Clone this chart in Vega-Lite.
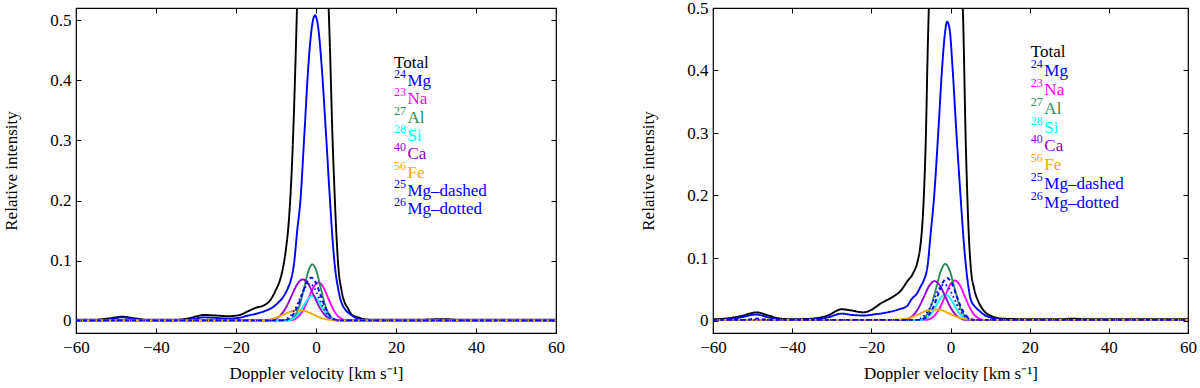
{
"$schema": "https://vega.github.io/schema/vega-lite/v6.json",
"background": "white",
"padding": {"left": 2, "top": -2, "right": 5, "bottom": 0},
"spacing": 73,
"config": {
 "font": "Liberation Serif, Times New Roman, serif",
 "text": {"font": "Liberation Serif, Times New Roman, serif"},
 "view": {"stroke": "black", "strokeWidth": 1.2},
 "axis": {"domain": false, "grid": false, "tickColor": "black", "tickSize": -5, "tickWidth": 1, "labelColor": "black", "labelFont": "Liberation Serif, Times New Roman, serif", "labelFontSize": 17, "titleFont": "Liberation Serif, Times New Roman, serif", "titleFontSize": 17, "titleFontWeight": "normal", "titleColor": "black", "labelFlush": false, "labelOverlap": false}
},
"resolve": {"scale": {"x": "independent", "y": "independent", "color": "independent", "strokeDash": "independent"}},
"datasets": {
"legend": [
 {"rank": 1, "sup": "", "name": "Total", "series": "Total"},
 {"rank": 2, "sup": "24", "name": "Mg", "series": "24Mg"},
 {"rank": 3, "sup": "23", "name": "Na", "series": "23Na"},
 {"rank": 4, "sup": "27", "name": "Al", "series": "27Al"},
 {"rank": 5, "sup": "28", "name": "Si", "series": "28Si"},
 {"rank": 6, "sup": "40", "name": "Ca", "series": "40Ca"},
 {"rank": 7, "sup": "56", "name": "Fe", "series": "56Fe"},
 {"rank": 8, "sup": "25", "name": "Mg–dashed", "series": "25Mg"},
 {"rank": 9, "sup": "26", "name": "Mg–dotted", "series": "26Mg"}
],
"left": [
 {"s":"Total","v":-60,"I":0.002},{"s":"Total","v":-56,"I":0.002},{"s":"Total","v":-52,"I":0.004},{"s":"Total","v":-48.5,"I":0.007},{"s":"Total","v":-45,"I":0.004},{"s":"Total","v":-42,"I":0.002},{"s":"Total","v":-36,"I":0.002},{"s":"Total","v":-32,"I":0.004},{"s":"Total","v":-28,"I":0.010},{"s":"Total","v":-25,"I":0.009},{"s":"Total","v":-22,"I":0.008},{"s":"Total","v":-19.7,"I":0.009},{"s":"Total","v":-16.4,"I":0.018},{"s":"Total","v":-15,"I":0.022},{"s":"Total","v":-13,"I":0.026},{"s":"Total","v":-11.5,"I":0.034},{"s":"Total","v":-10,"I":0.052},{"s":"Total","v":-9,"I":0.068},{"s":"Total","v":-8.2,"I":0.09},{"s":"Total","v":-7.5,"I":0.12},{"s":"Total","v":-6.75,"I":0.17},{"s":"Total","v":-6,"I":0.26},{"s":"Total","v":-5.5,"I":0.35},{"s":"Total","v":-5,"I":0.46},{"s":"Total","v":-4.5,"I":0.58},{"s":"Total","v":-4,"I":0.68},{"s":"Total","v":-3,"I":0.8},{"s":"Total","v":-2,"I":0.87},{"s":"Total","v":-1,"I":0.9},{"s":"Total","v":0,"I":0.88},{"s":"Total","v":1,"I":0.8},{"s":"Total","v":2,"I":0.68},{"s":"Total","v":3,"I":0.55},{"s":"Total","v":3.5,"I":0.45},{"s":"Total","v":4.1,"I":0.31},{"s":"Total","v":4.6,"I":0.22},{"s":"Total","v":5.1,"I":0.144},{"s":"Total","v":5.6,"I":0.089},{"s":"Total","v":6.4,"I":0.05},{"s":"Total","v":7.2,"I":0.03},{"s":"Total","v":7.9,"I":0.022},{"s":"Total","v":9,"I":0.01},{"s":"Total","v":10.6,"I":0.006},{"s":"Total","v":12,"I":0.003},{"s":"Total","v":15,"I":0.002},{"s":"Total","v":25,"I":0.002},{"s":"Total","v":32,"I":0.003},{"s":"Total","v":36,"I":0.002},{"s":"Total","v":60,"I":0.002},
 {"s":"24Mg","v":-60,"I":0.001},{"s":"24Mg","v":-55,"I":0.001},{"s":"24Mg","v":-52,"I":0.002},{"s":"24Mg","v":-48.5,"I":0.006},{"s":"24Mg","v":-45,"I":0.003},{"s":"24Mg","v":-41,"I":0.001},{"s":"24Mg","v":-34,"I":0.001},{"s":"24Mg","v":-31,"I":0.003},{"s":"24Mg","v":-28,"I":0.006},{"s":"24Mg","v":-25,"I":0.005},{"s":"24Mg","v":-22,"I":0.004},{"s":"24Mg","v":-19.5,"I":0.005},{"s":"24Mg","v":-17,"I":0.009},{"s":"24Mg","v":-15,"I":0.012},{"s":"24Mg","v":-13,"I":0.016},{"s":"24Mg","v":-11,"I":0.022},{"s":"24Mg","v":-9.5,"I":0.03},{"s":"24Mg","v":-8,"I":0.042},{"s":"24Mg","v":-7,"I":0.055},{"s":"24Mg","v":-6.2,"I":0.07},{"s":"24Mg","v":-5.5,"I":0.095},{"s":"24Mg","v":-4.7,"I":0.15},{"s":"24Mg","v":-3.9,"I":0.2},{"s":"24Mg","v":-2.9,"I":0.311},{"s":"24Mg","v":-1.9,"I":0.425},{"s":"24Mg","v":-1,"I":0.49},{"s":"24Mg","v":-0.25,"I":0.508},{"s":"24Mg","v":0.5,"I":0.49},{"s":"24Mg","v":1.4,"I":0.425},{"s":"24Mg","v":2.5,"I":0.311},{"s":"24Mg","v":3.5,"I":0.2},{"s":"24Mg","v":4.2,"I":0.13},{"s":"24Mg","v":4.75,"I":0.089},{"s":"24Mg","v":5.5,"I":0.055},{"s":"24Mg","v":6.25,"I":0.033},{"s":"24Mg","v":7.2,"I":0.02},{"s":"24Mg","v":8.2,"I":0.013},{"s":"24Mg","v":9.2,"I":0.008},{"s":"24Mg","v":10.5,"I":0.004},{"s":"24Mg","v":12,"I":0.002},{"s":"24Mg","v":15,"I":0.001},{"s":"24Mg","v":60,"I":0.001},
 {"s":"23Na","v":-60,"I":0.001},{"s":"23Na","v":-9,"I":0.001},{"s":"23Na","v":-6.6,"I":0.001},{"s":"23Na","v":-5.4,"I":0.0028},{"s":"23Na","v":-4.2,"I":0.0087},{"s":"23Na","v":-3.0,"I":0.0208},{"s":"23Na","v":-1.8,"I":0.0388},{"s":"23Na","v":-0.6,"I":0.0565},{"s":"23Na","v":0.6,"I":0.064},{"s":"23Na","v":1.8,"I":0.0565},{"s":"23Na","v":3.0,"I":0.0388},{"s":"23Na","v":4.2,"I":0.0208},{"s":"23Na","v":5.4,"I":0.0087},{"s":"23Na","v":6.6,"I":0.0028},{"s":"23Na","v":7.8,"I":0.001},{"s":"23Na","v":11,"I":0.001},{"s":"23Na","v":60,"I":0.001},
 {"s":"27Al","v":-60,"I":0.001},{"s":"27Al","v":-10,"I":0.001},{"s":"27Al","v":-7.9,"I":0.001},{"s":"27Al","v":-6.9,"I":0.0015},{"s":"27Al","v":-5.9,"I":0.0041},{"s":"27Al","v":-4.9,"I":0.0127},{"s":"27Al","v":-3.9,"I":0.0305},{"s":"27Al","v":-2.9,"I":0.057},{"s":"27Al","v":-1.9,"I":0.083},{"s":"27Al","v":-0.9,"I":0.094},{"s":"27Al","v":0.1,"I":0.083},{"s":"27Al","v":1.1,"I":0.057},{"s":"27Al","v":2.1,"I":0.0305},{"s":"27Al","v":3.1,"I":0.0127},{"s":"27Al","v":4.1,"I":0.0041},{"s":"27Al","v":5.1,"I":0.0015},{"s":"27Al","v":6.1,"I":0.001},{"s":"27Al","v":10,"I":0.001},{"s":"27Al","v":60,"I":0.001},
 {"s":"28Si","v":-60,"I":0.001},{"s":"28Si","v":-10,"I":0.001},{"s":"28Si","v":-7.5,"I":0.001},{"s":"28Si","v":-6.4,"I":0.0018},{"s":"28Si","v":-5.3,"I":0.0057},{"s":"28Si","v":-4.2,"I":0.0136},{"s":"28Si","v":-3.1,"I":0.0255},{"s":"28Si","v":-2.0,"I":0.0371},{"s":"28Si","v":-0.9,"I":0.042},{"s":"28Si","v":0.2,"I":0.0371},{"s":"28Si","v":1.3,"I":0.0255},{"s":"28Si","v":2.4,"I":0.0136},{"s":"28Si","v":3.5,"I":0.0057},{"s":"28Si","v":4.6,"I":0.0018},{"s":"28Si","v":5.7,"I":0.001},{"s":"28Si","v":9,"I":0.001},{"s":"28Si","v":60,"I":0.001},
 {"s":"40Ca","v":-60,"I":0.001},{"s":"40Ca","v":-14,"I":0.001},{"s":"40Ca","v":-11.7,"I":0.001},{"s":"40Ca","v":-10.3,"I":0.003},{"s":"40Ca","v":-8.9,"I":0.0093},{"s":"40Ca","v":-7.5,"I":0.0224},{"s":"40Ca","v":-6.1,"I":0.0418},{"s":"40Ca","v":-4.7,"I":0.0609},{"s":"40Ca","v":-3.3,"I":0.069},{"s":"40Ca","v":-1.9,"I":0.0609},{"s":"40Ca","v":-0.5,"I":0.0418},{"s":"40Ca","v":0.9,"I":0.0224},{"s":"40Ca","v":2.3,"I":0.0093},{"s":"40Ca","v":3.7,"I":0.003},{"s":"40Ca","v":5.1,"I":0.001},{"s":"40Ca","v":8,"I":0.001},{"s":"40Ca","v":60,"I":0.001},
 {"s":"56Fe","v":-60,"I":0.001},{"s":"56Fe","v":-18,"I":0.001},{"s":"56Fe","v":-14.9,"I":0.001},{"s":"56Fe","v":-13.15,"I":0.0012},{"s":"56Fe","v":-11.4,"I":0.0028},{"s":"56Fe","v":-9.65,"I":0.0063},{"s":"56Fe","v":-7.9,"I":0.0113},{"s":"56Fe","v":-6.15,"I":0.0161},{"s":"56Fe","v":-4.4,"I":0.018},{"s":"56Fe","v":-2.65,"I":0.0161},{"s":"56Fe","v":-0.9,"I":0.0113},{"s":"56Fe","v":0.85,"I":0.0063},{"s":"56Fe","v":2.6,"I":0.0028},{"s":"56Fe","v":4.35,"I":0.0012},{"s":"56Fe","v":6.1,"I":0.001},{"s":"56Fe","v":10,"I":0.001},{"s":"56Fe","v":60,"I":0.001},
 {"s":"25Mg","v":-60,"I":0.001},{"s":"25Mg","v":-10,"I":0.001},{"s":"25Mg","v":-8.1,"I":0.001},{"s":"25Mg","v":-6.95,"I":0.0032},{"s":"25Mg","v":-5.8,"I":0.0097},{"s":"25Mg","v":-4.65,"I":0.0234},{"s":"25Mg","v":-3.5,"I":0.0437},{"s":"25Mg","v":-2.35,"I":0.0635},{"s":"25Mg","v":-1.2,"I":0.072},{"s":"25Mg","v":-0.05,"I":0.0635},{"s":"25Mg","v":1.1,"I":0.0437},{"s":"25Mg","v":2.25,"I":0.0234},{"s":"25Mg","v":3.4,"I":0.0097},{"s":"25Mg","v":4.55,"I":0.0032},{"s":"25Mg","v":5.7,"I":0.001},{"s":"25Mg","v":9,"I":0.001},{"s":"25Mg","v":60,"I":0.001},
 {"s":"26Mg","v":-60,"I":0.001},{"s":"26Mg","v":-11,"I":0.001},{"s":"26Mg","v":-8.8,"I":0.001},{"s":"26Mg","v":-7.6,"I":0.0027},{"s":"26Mg","v":-6.4,"I":0.0084},{"s":"26Mg","v":-5.2,"I":0.0201},{"s":"26Mg","v":-4.0,"I":0.0376},{"s":"26Mg","v":-2.8,"I":0.0547},{"s":"26Mg","v":-1.6,"I":0.062},{"s":"26Mg","v":-0.4,"I":0.0547},{"s":"26Mg","v":0.8,"I":0.0376},{"s":"26Mg","v":2.0,"I":0.0201},{"s":"26Mg","v":3.2,"I":0.0084},{"s":"26Mg","v":4.4,"I":0.0027},{"s":"26Mg","v":5.6,"I":0.001},{"s":"26Mg","v":9,"I":0.001},{"s":"26Mg","v":60,"I":0.001}
],
"right": [
 {"s":"Total","v":-60,"I":0.002},{"s":"Total","v":-57,"I":0.003},{"s":"Total","v":-53,"I":0.007},{"s":"Total","v":-49,"I":0.013},{"s":"Total","v":-46,"I":0.008},{"s":"Total","v":-43,"I":0.003},{"s":"Total","v":-40,"I":0.002},{"s":"Total","v":-35,"I":0.003},{"s":"Total","v":-31,"I":0.008},{"s":"Total","v":-27.5,"I":0.018},{"s":"Total","v":-25,"I":0.016},{"s":"Total","v":-22,"I":0.013},{"s":"Total","v":-20,"I":0.017},{"s":"Total","v":-17.7,"I":0.027},{"s":"Total","v":-14.3,"I":0.039},{"s":"Total","v":-12.5,"I":0.048},{"s":"Total","v":-11,"I":0.062},{"s":"Total","v":-9.5,"I":0.075},{"s":"Total","v":-8.3,"I":0.095},{"s":"Total","v":-7.6,"I":0.12},{"s":"Total","v":-7.05,"I":0.16},{"s":"Total","v":-6.6,"I":0.22},{"s":"Total","v":-6.2,"I":0.3},{"s":"Total","v":-5.8,"I":0.42},{"s":"Total","v":-5.4,"I":0.52},{"s":"Total","v":-5,"I":0.62},{"s":"Total","v":-4,"I":0.78},{"s":"Total","v":-3,"I":0.87},{"s":"Total","v":-2,"I":0.91},{"s":"Total","v":-1,"I":0.92},{"s":"Total","v":0,"I":0.88},{"s":"Total","v":1,"I":0.78},{"s":"Total","v":2,"I":0.65},{"s":"Total","v":2.6,"I":0.57},{"s":"Total","v":3.2,"I":0.48},{"s":"Total","v":3.8,"I":0.3},{"s":"Total","v":4.6,"I":0.14},{"s":"Total","v":5.1,"I":0.087},{"s":"Total","v":6,"I":0.05},{"s":"Total","v":7,"I":0.031},{"s":"Total","v":8.5,"I":0.015},{"s":"Total","v":10.4,"I":0.007},{"s":"Total","v":13,"I":0.003},{"s":"Total","v":20,"I":0.002},{"s":"Total","v":28,"I":0.002},{"s":"Total","v":31,"I":0.003},{"s":"Total","v":34,"I":0.002},{"s":"Total","v":60,"I":0.002},
 {"s":"24Mg","v":-60,"I":0.001},{"s":"24Mg","v":-56,"I":0.002},{"s":"24Mg","v":-53,"I":0.005},{"s":"24Mg","v":-49,"I":0.0096},{"s":"24Mg","v":-46,"I":0.005},{"s":"24Mg","v":-42,"I":0.001},{"s":"24Mg","v":-34,"I":0.002},{"s":"24Mg","v":-31,"I":0.005},{"s":"24Mg","v":-27.5,"I":0.011},{"s":"24Mg","v":-25,"I":0.009},{"s":"24Mg","v":-22,"I":0.008},{"s":"24Mg","v":-19,"I":0.01},{"s":"24Mg","v":-16,"I":0.013},{"s":"24Mg","v":-13,"I":0.018},{"s":"24Mg","v":-11,"I":0.023},{"s":"24Mg","v":-9.85,"I":0.034},{"s":"24Mg","v":-8.4,"I":0.044},{"s":"24Mg","v":-7.5,"I":0.055},{"s":"24Mg","v":-6.7,"I":0.065},{"s":"24Mg","v":-5.8,"I":0.087},{"s":"24Mg","v":-5,"I":0.14},{"s":"24Mg","v":-4.2,"I":0.193},{"s":"24Mg","v":-3.1,"I":0.3},{"s":"24Mg","v":-2.1,"I":0.406},{"s":"24Mg","v":-1.4,"I":0.46},{"s":"24Mg","v":-0.85,"I":0.478},{"s":"24Mg","v":-0.2,"I":0.465},{"s":"24Mg","v":0.5,"I":0.406},{"s":"24Mg","v":1.5,"I":0.3},{"s":"24Mg","v":2.6,"I":0.193},{"s":"24Mg","v":3.3,"I":0.13},{"s":"24Mg","v":3.9,"I":0.087},{"s":"24Mg","v":4.5,"I":0.055},{"s":"24Mg","v":5.1,"I":0.034},{"s":"24Mg","v":6.2,"I":0.022},{"s":"24Mg","v":7.4,"I":0.015},{"s":"24Mg","v":8.5,"I":0.009},{"s":"24Mg","v":10,"I":0.005},{"s":"24Mg","v":12,"I":0.002},{"s":"24Mg","v":15,"I":0.001},{"s":"24Mg","v":60,"I":0.001},
 {"s":"23Na","v":-60,"I":0.001},{"s":"23Na","v":-9,"I":0.001},{"s":"23Na","v":-6.4,"I":0.001},{"s":"23Na","v":-5.15,"I":0.0028},{"s":"23Na","v":-3.9,"I":0.0087},{"s":"23Na","v":-2.65,"I":0.0208},{"s":"23Na","v":-1.4,"I":0.0388},{"s":"23Na","v":-0.15,"I":0.0565},{"s":"23Na","v":1.1,"I":0.064},{"s":"23Na","v":2.35,"I":0.0565},{"s":"23Na","v":3.6,"I":0.0388},{"s":"23Na","v":4.85,"I":0.0208},{"s":"23Na","v":6.1,"I":0.0087},{"s":"23Na","v":7.35,"I":0.0028},{"s":"23Na","v":8.6,"I":0.001},{"s":"23Na","v":12,"I":0.001},{"s":"23Na","v":60,"I":0.001},
 {"s":"27Al","v":-60,"I":0.001},{"s":"27Al","v":-10,"I":0.001},{"s":"27Al","v":-7.9,"I":0.001},{"s":"27Al","v":-6.8,"I":0.004},{"s":"27Al","v":-5.7,"I":0.0122},{"s":"27Al","v":-4.6,"I":0.0294},{"s":"27Al","v":-3.5,"I":0.0549},{"s":"27Al","v":-2.4,"I":0.0799},{"s":"27Al","v":-1.3,"I":0.0905},{"s":"27Al","v":-0.2,"I":0.0799},{"s":"27Al","v":0.9,"I":0.0549},{"s":"27Al","v":2.0,"I":0.0294},{"s":"27Al","v":3.1,"I":0.0122},{"s":"27Al","v":4.2,"I":0.004},{"s":"27Al","v":5.3,"I":0.001},{"s":"27Al","v":9,"I":0.001},{"s":"27Al","v":60,"I":0.001},
 {"s":"28Si","v":-60,"I":0.001},{"s":"28Si","v":-10,"I":0.001},{"s":"28Si","v":-7.9,"I":0.001},{"s":"28Si","v":-6.8,"I":0.0018},{"s":"28Si","v":-5.7,"I":0.0056},{"s":"28Si","v":-4.6,"I":0.0135},{"s":"28Si","v":-3.5,"I":0.0252},{"s":"28Si","v":-2.4,"I":0.0366},{"s":"28Si","v":-1.3,"I":0.0415},{"s":"28Si","v":-0.2,"I":0.0366},{"s":"28Si","v":0.9,"I":0.0252},{"s":"28Si","v":2.0,"I":0.0135},{"s":"28Si","v":3.1,"I":0.0056},{"s":"28Si","v":4.2,"I":0.0018},{"s":"28Si","v":5.3,"I":0.001},{"s":"28Si","v":9,"I":0.001},{"s":"28Si","v":60,"I":0.001},
 {"s":"40Ca","v":-60,"I":0.001},{"s":"40Ca","v":-15,"I":0.001},{"s":"40Ca","v":-12.1,"I":0.001},{"s":"40Ca","v":-10.75,"I":0.0028},{"s":"40Ca","v":-9.4,"I":0.0085},{"s":"40Ca","v":-8.05,"I":0.0205},{"s":"40Ca","v":-6.7,"I":0.0382},{"s":"40Ca","v":-5.35,"I":0.0556},{"s":"40Ca","v":-4.0,"I":0.063},{"s":"40Ca","v":-2.65,"I":0.0556},{"s":"40Ca","v":-1.3,"I":0.0382},{"s":"40Ca","v":0.05,"I":0.0205},{"s":"40Ca","v":1.4,"I":0.0085},{"s":"40Ca","v":2.75,"I":0.0028},{"s":"40Ca","v":4.1,"I":0.001},{"s":"40Ca","v":8,"I":0.001},{"s":"40Ca","v":60,"I":0.001},
 {"s":"56Fe","v":-60,"I":0.001},{"s":"56Fe","v":-17,"I":0.001},{"s":"56Fe","v":-14.5,"I":0.001},{"s":"56Fe","v":-12.75,"I":0.0018},{"s":"56Fe","v":-11,"I":0.0034},{"s":"56Fe","v":-9.25,"I":0.0067},{"s":"56Fe","v":-7.5,"I":0.0117},{"s":"56Fe","v":-5.75,"I":0.0165},{"s":"56Fe","v":-4.0,"I":0.0176},{"s":"56Fe","v":-2.25,"I":0.0165},{"s":"56Fe","v":-0.5,"I":0.0117},{"s":"56Fe","v":1.25,"I":0.0067},{"s":"56Fe","v":3.0,"I":0.0034},{"s":"56Fe","v":4.75,"I":0.0018},{"s":"56Fe","v":6.5,"I":0.001},{"s":"56Fe","v":10,"I":0.001},{"s":"56Fe","v":60,"I":0.001},
 {"s":"25Mg","v":-60,"I":0.001},{"s":"25Mg","v":-52,"I":0.001},{"s":"25Mg","v":-49,"I":0.003},{"s":"25Mg","v":-46,"I":0.001},{"s":"25Mg","v":-10,"I":0.001},{"s":"25Mg","v":-7.75,"I":0.001},{"s":"25Mg","v":-6.6,"I":0.003},{"s":"25Mg","v":-5.45,"I":0.0092},{"s":"25Mg","v":-4.3,"I":0.0221},{"s":"25Mg","v":-3.15,"I":0.0412},{"s":"25Mg","v":-2.0,"I":0.06},{"s":"25Mg","v":-0.85,"I":0.068},{"s":"25Mg","v":0.3,"I":0.06},{"s":"25Mg","v":1.45,"I":0.0412},{"s":"25Mg","v":2.6,"I":0.0221},{"s":"25Mg","v":3.75,"I":0.0092},{"s":"25Mg","v":4.9,"I":0.003},{"s":"25Mg","v":6.05,"I":0.001},{"s":"25Mg","v":9,"I":0.001},{"s":"25Mg","v":60,"I":0.001},
 {"s":"26Mg","v":-60,"I":0.001},{"s":"26Mg","v":-11,"I":0.001},{"s":"26Mg","v":-9.1,"I":0.001},{"s":"26Mg","v":-7.85,"I":0.0025},{"s":"26Mg","v":-6.6,"I":0.0078},{"s":"26Mg","v":-5.35,"I":0.0188},{"s":"26Mg","v":-4.1,"I":0.0352},{"s":"26Mg","v":-2.85,"I":0.0512},{"s":"26Mg","v":-1.6,"I":0.058},{"s":"26Mg","v":-0.35,"I":0.0512},{"s":"26Mg","v":0.9,"I":0.0352},{"s":"26Mg","v":2.15,"I":0.0188},{"s":"26Mg","v":3.4,"I":0.0078},{"s":"26Mg","v":4.65,"I":0.0025},{"s":"26Mg","v":5.9,"I":0.001},{"s":"26Mg","v":9,"I":0.001},{"s":"26Mg","v":60,"I":0.001}
]
},
"hconcat": [
{
 "width": 480, "height": 325,
 "resolve": {"scale": {"y": "independent"}},
 "layer": [
  {
   "data": {"name": "left"},
   "mark": {"type": "line", "clip": true, "strokeWidth": 1.9, "interpolate": "monotone"},
   "encoding": {
    "x": {"field": "v", "type": "quantitative", "scale": {"domain": [-60, 60], "nice": false, "zero": false}, "axis": {"orient": "bottom", "values": [-60, -40, -20, 0, 20, 40, 60], "labelPadding": 11, "title": "Doppler velocity [km s⁻¹]", "titlePadding": 10, "labelFont": "Liberation Serif, Times New Roman, serif", "titleFont": "Liberation Serif, Times New Roman, serif"}},
    "y": {"field": "I", "type": "quantitative", "scale": {"domain": [-0.02, 0.52], "nice": false, "zero": false}, "axis": {"orient": "left", "values": [0, 0.1, 0.2, 0.3, 0.4, 0.5], "format": ".1~f", "labelPadding": 10, "title": "Relative intensity", "titlePadding": 29, "labelFont": "Liberation Serif, Times New Roman, serif", "titleFont": "Liberation Serif, Times New Roman, serif"}},
    "color": {"field": "s", "type": "nominal", "legend": null, "scale": {"domain": ["Total", "24Mg", "23Na", "27Al", "28Si", "40Ca", "56Fe", "25Mg", "26Mg"], "range": ["#000000", "#0000ff", "#ff00ff", "#2e8b57", "#00ffff", "#9400d3", "#ffa500", "#0000ff", "#0000ff"]}},
    "strokeDash": {"field": "s", "type": "nominal", "legend": null, "scale": {"domain": ["Total", "24Mg", "23Na", "27Al", "28Si", "40Ca", "56Fe", "25Mg", "26Mg"], "range": [[1, 0], [1, 0], [1, 0], [1, 0], [1, 0], [1, 0], [1, 0], [4, 3], [1.5, 3]]}}
   }
  },
  {
   "data": {"values": [{}]},
   "mark": {"type": "point", "opacity": 0},
   "encoding": {
    "x": {"datum": 0, "type": "quantitative", "scale": {"domain": [-60, 60], "nice": false, "zero": false}, "axis": {"orient": "top", "values": [-60, -40, -20, 0, 20, 40, 60], "labels": false, "title": null, "minExtent": 0, "maxExtent": 0}},
    "y": {"datum": 0, "type": "quantitative", "scale": {"domain": [-0.02, 0.52], "nice": false, "zero": false}, "axis": {"orient": "right", "values": [0, 0.1, 0.2, 0.3, 0.4, 0.5], "labels": false, "title": null, "minExtent": 0, "maxExtent": 0}}
   }
  },
  {
   "data": {"name": "legend"},
   "encoding": {
    "x": {"datum": 19.5, "type": "quantitative", "scale": {"domain": [-60, 60], "nice": false, "zero": false}, "axis": null},
    "y": {"field": "rank", "type": "quantitative", "scale": {"domain": [-1.989, 15.77], "reverse": true, "nice": false, "zero": false}, "axis": null},
    "color": {"field": "series", "type": "nominal", "legend": null, "scale": {"domain": ["Total", "24Mg", "23Na", "27Al", "28Si", "40Ca", "56Fe", "25Mg", "26Mg"], "range": ["#000000", "#0000ff", "#ff00ff", "#2e8b57", "#00ffff", "#9400d3", "#ffa500", "#0000ff", "#0000ff"]}}
   },
   "layer": [
    {"transform": [{"filter": "datum.sup != ''"}], "mark": {"type": "text", "align": "left", "baseline": "middle", "fontSize": 12, "dy": -7}, "encoding": {"text": {"field": "sup"}}},
    {"transform": [{"filter": "datum.sup != ''"}], "mark": {"type": "text", "align": "left", "baseline": "middle", "fontSize": 17, "dx": 13.5}, "encoding": {"text": {"field": "name"}}},
    {"transform": [{"filter": "datum.sup == ''"}], "mark": {"type": "text", "align": "left", "baseline": "middle", "fontSize": 17}, "encoding": {"text": {"field": "name"}}}
   ]
  }
 ]
},
{
 "width": 475, "height": 325,
 "resolve": {"scale": {"y": "independent"}},
 "layer": [
  {
   "data": {"name": "right"},
   "mark": {"type": "line", "clip": true, "strokeWidth": 1.9, "interpolate": "monotone"},
   "encoding": {
    "x": {"field": "v", "type": "quantitative", "scale": {"domain": [-60, 60], "nice": false, "zero": false}, "axis": {"orient": "bottom", "values": [-60, -40, -20, 0, 20, 40, 60], "labelPadding": 11, "title": "Doppler velocity [km s⁻¹]", "titlePadding": 10, "labelFont": "Liberation Serif, Times New Roman, serif", "titleFont": "Liberation Serif, Times New Roman, serif"}},
    "y": {"field": "I", "type": "quantitative", "scale": {"domain": [-0.02, 0.5], "nice": false, "zero": false}, "axis": {"orient": "left", "values": [0, 0.1, 0.2, 0.3, 0.4, 0.5], "format": ".1~f", "labelPadding": 10, "title": "Relative intensity", "titlePadding": 29, "labelFont": "Liberation Serif, Times New Roman, serif", "titleFont": "Liberation Serif, Times New Roman, serif"}},
    "color": {"field": "s", "type": "nominal", "legend": null, "scale": {"domain": ["Total", "24Mg", "23Na", "27Al", "28Si", "40Ca", "56Fe", "25Mg", "26Mg"], "range": ["#000000", "#0000ff", "#ff00ff", "#2e8b57", "#00ffff", "#9400d3", "#ffa500", "#0000ff", "#0000ff"]}},
    "strokeDash": {"field": "s", "type": "nominal", "legend": null, "scale": {"domain": ["Total", "24Mg", "23Na", "27Al", "28Si", "40Ca", "56Fe", "25Mg", "26Mg"], "range": [[1, 0], [1, 0], [1, 0], [1, 0], [1, 0], [1, 0], [1, 0], [4, 3], [1.5, 3]]}}
   }
  },
  {
   "data": {"values": [{}]},
   "mark": {"type": "point", "opacity": 0},
   "encoding": {
    "x": {"datum": 0, "type": "quantitative", "scale": {"domain": [-60, 60], "nice": false, "zero": false}, "axis": {"orient": "top", "values": [-60, -40, -20, 0, 20, 40, 60], "labels": false, "title": null, "minExtent": 0, "maxExtent": 0}},
    "y": {"datum": 0, "type": "quantitative", "scale": {"domain": [-0.02, 0.5], "nice": false, "zero": false}, "axis": {"orient": "right", "values": [0, 0.1, 0.2, 0.3, 0.4, 0.5], "labels": false, "title": null, "minExtent": 0, "maxExtent": 0}}
   }
  },
  {
   "data": {"name": "legend"},
   "encoding": {
    "x": {"datum": 20.3, "type": "quantitative", "scale": {"domain": [-60, 60], "nice": false, "zero": false}, "axis": null},
    "y": {"field": "rank", "type": "quantitative", "scale": {"domain": [-1.356, 15.93], "reverse": true, "nice": false, "zero": false}, "axis": null},
    "color": {"field": "series", "type": "nominal", "legend": null, "scale": {"domain": ["Total", "24Mg", "23Na", "27Al", "28Si", "40Ca", "56Fe", "25Mg", "26Mg"], "range": ["#000000", "#0000ff", "#ff00ff", "#2e8b57", "#00ffff", "#9400d3", "#ffa500", "#0000ff", "#0000ff"]}}
   },
   "layer": [
    {"transform": [{"filter": "datum.sup != ''"}], "mark": {"type": "text", "align": "left", "baseline": "middle", "fontSize": 12, "dy": -7}, "encoding": {"text": {"field": "sup"}}},
    {"transform": [{"filter": "datum.sup != ''"}], "mark": {"type": "text", "align": "left", "baseline": "middle", "fontSize": 17, "dx": 13.5}, "encoding": {"text": {"field": "name"}}},
    {"transform": [{"filter": "datum.sup == ''"}], "mark": {"type": "text", "align": "left", "baseline": "middle", "fontSize": 17}, "encoding": {"text": {"field": "name"}}}
   ]
  }
 ]
}
]
}
